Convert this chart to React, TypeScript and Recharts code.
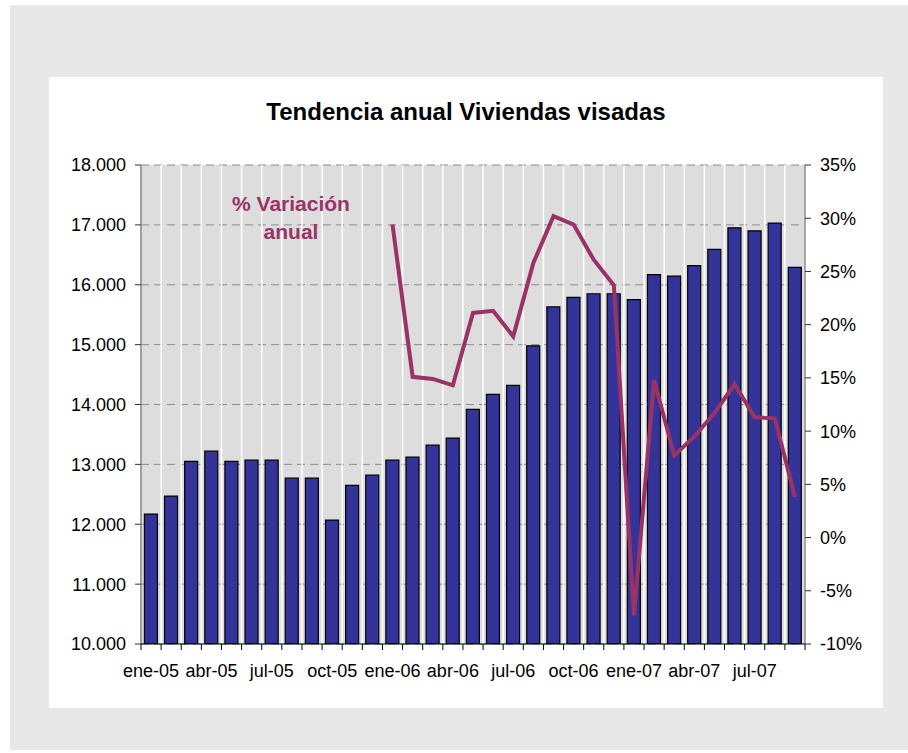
import React from 'react';
import { ComposedChart, Bar, Line, XAxis, YAxis, CartesianGrid } from 'recharts';

const MONTHS = [
  'ene-05', 'feb-05', 'mar-05', 'abr-05', 'may-05', 'jun-05', 'jul-05', 'ago-05', 'sep-05', 'oct-05', 'nov-05', 'dic-05',
  'ene-06', 'feb-06', 'mar-06', 'abr-06', 'may-06', 'jun-06', 'jul-06', 'ago-06', 'sep-06', 'oct-06', 'nov-06', 'dic-06',
  'ene-07', 'feb-07', 'mar-07', 'abr-07', 'may-07', 'jun-07', 'jul-07', 'ago-07', 'sep-07',
];

// Viviendas visadas (tendencia anual)
const VIVIENDAS = [
  12170, 12470, 13050, 13220, 13050, 13070, 13070, 12770, 12770, 12070, 12650, 12820,
  13070, 13120, 13320, 13440, 13920, 14170, 14320, 14980, 15630, 15790, 15850, 15850,
  15750, 16170, 16145, 16320, 16590, 16950, 16900, 17030, 16290,
];

// % variación anual (sin dato antes de ene-06)
const VARIACION: (number | null)[] = [
  null, null, null, null, null, null, null, null, null, null, null, null,
  29.4, 15.1, 14.9, 14.3, 21.1, 21.3, 18.9, 25.8, 30.2, 29.4, 26.1, 23.7,
  -7.3, 14.8, 7.7, 9.5, 11.7, 14.4, 11.3, 11.2, 3.8,
];

const LEFT_TICKS = [10000, 11000, 12000, 13000, 14000, 15000, 16000, 17000, 18000];
const RIGHT_TICKS = [-10, -5, 0, 5, 10, 15, 20, 25, 30, 35];

const FONT = '"Liberation Sans", Arial, Helvetica, sans-serif';
const BAR_COLOR = '#333399';
const LINE_COLOR = '#993366';

const data = MONTHS.map((m, i) => ({ mes: m, viviendas: VIVIENDAS[i], variacion: VARIACION[i] }));

const fmtMiles = (v: number) => `${Math.floor(v / 1000)}.${String(v % 1000).padStart(3, '0')}`;

function MonthTick(props: any) {
  const { x, y, payload, index } = props;
  const half = payload?.offset || 10;
  const isLast = index === MONTHS.length - 1;
  return (
    <g>
      <line x1={x - half} x2={x - half} y1={y} y2={y + 6} stroke="#000" />
      {isLast && <line x1={x + half} x2={x + half} y1={y} y2={y + 6} stroke="#000" />}
      {index % 3 === 0 && (
        <text x={x} y={y + 33} textAnchor="middle" fontSize={18} fill="#000" fontFamily={FONT}>
          {payload.value}
        </text>
      )}
    </g>
  );
}

export default function App() {
  const n = MONTHS.length;
  return (
    <div style={{ position: 'absolute', left: 0, top: 0, width: 908, height: 753, background: '#fff', fontFamily: FONT }}>
      <div style={{ position: 'absolute', left: 10, top: 5, width: 898, height: 745, background: '#e8e8e8' }} />
      <div style={{ position: 'absolute', left: 49, top: 77, width: 834, height: 631, background: '#fff' }} />
      <div style={{ position: 'absolute', left: 0, top: 0 }}>
        <ComposedChart
          width={908}
          height={753}
          data={data}
          margin={{ top: 165, right: 0, bottom: 79, left: 0 }}
          barCategoryGap="17%"
        >
          <CartesianGrid
            yAxisId="left"
            vertical={false}
            stroke="#8c8c8c"
            strokeDasharray="8 5"
            fill="#dddddd"
            fillOpacity={1}
          />
          <CartesianGrid
            yAxisId="left"
            horizontal={false}
            stroke="#ffffff"
            strokeWidth={1.5}
            verticalCoordinatesGenerator={({ offset }: any) =>
              Array.from({ length: n + 1 }, (_, i) => offset.left + (i * offset.width) / n)
            }
          />
          <XAxis
            dataKey="mes"
            interval={0}
            height={30}
            tickLine={false}
            tickSize={0}
            tickMargin={0}
            axisLine={{ stroke: '#000' }}
            tick={<MonthTick />}
          />
          <YAxis
            yAxisId="left"
            orientation="left"
            width={141}
            domain={[10000, 18000]}
            ticks={LEFT_TICKS}
            allowDataOverflow
            tickFormatter={fmtMiles}
            tick={{ fill: '#000', fontSize: 18, fontFamily: FONT }}
            tickSize={6}
            tickMargin={9}
            tickLine={{ stroke: '#333' }}
            axisLine={{ stroke: '#444' }}
          />
          <YAxis
            yAxisId="right"
            orientation="right"
            width={103}
            domain={[-10, 35]}
            ticks={RIGHT_TICKS}
            allowDataOverflow
            tickFormatter={(v: number) => `${v}%`}
            tick={{ fill: '#000', fontSize: 18, fontFamily: FONT, textAnchor: 'start' }}
            tickSize={6}
            tickMargin={9}
            tickLine={{ stroke: '#333' }}
            axisLine={{ stroke: '#555' }}
          />
          <Bar
            yAxisId="left"
            dataKey="viviendas"
            fill={BAR_COLOR}
            stroke="#000"
            strokeWidth={1.2}
            isAnimationActive={false}
          />
          <Line
            yAxisId="right"
            dataKey="variacion"
            stroke={LINE_COLOR}
            strokeWidth={4}
            dot={false}
            activeDot={false}
            connectNulls={false}
            type="linear"
            isAnimationActive={false}
          />
        </ComposedChart>
      </div>
      <div
        style={{
          position: 'absolute', left: 49, width: 834, top: 100, textAlign: 'center',
          fontSize: 24, fontWeight: 'bold', lineHeight: '23px', color: '#000', pointerEvents: 'none',
        }}
      >
        Tendencia anual Viviendas visadas
      </div>
      <div
        style={{
          position: 'absolute', left: 191, width: 200, top: 190, textAlign: 'center',
          fontSize: 21, fontWeight: 'bold', lineHeight: '28px', color: LINE_COLOR, pointerEvents: 'none',
        }}
      >
        % Variación
        <br />
        anual
      </div>
    </div>
  );
}
